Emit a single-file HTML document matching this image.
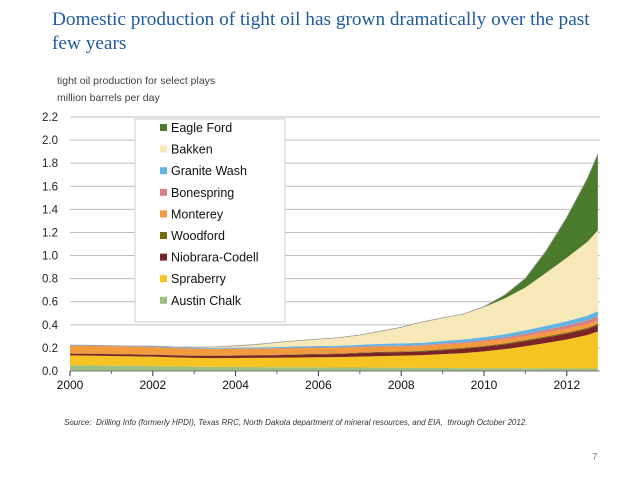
<!DOCTYPE html>
<html><head><meta charset="utf-8"><style>
body{margin:0;background:#fff;width:638px;height:479px;overflow:hidden;position:relative;font-family:"Liberation Sans",sans-serif}
.t{position:absolute;left:52px;top:8px;width:560px;font-family:"Liberation Serif",serif;font-size:19.3px;line-height:24px;color:#1f5a9e}
.s{position:absolute;left:57px;font-size:10.5px;color:#404040}
.src{position:absolute;left:64px;top:418px;font-size:8px;font-style:italic;color:#333}
.pg{position:absolute;left:592px;top:452px;font-size:10px;color:#888}
</style></head><body>
<div class="t">Domestic production of tight oil has grown dramatically over the past few years</div>
<div class="s" style="top:75px">tight oil production for select plays</div>
<div class="s" style="top:92px">million barrels per day</div>
<svg id="c" width="638" height="479" style="position:absolute;left:0;top:0"></svg>
<div class="src">Source:&nbsp; Drilling Info (formerly HPDI), Texas RRC, North Dakota department of mineral resources, and EIA,&nbsp; through October 2012.</div>
<div class="pg">7</div>
<script>
const years=[2000,2000.5,2001,2001.5,2002,2002.5,2003,2003.5,2004,2004.5,2005,2005.5,2006,2006.5,2007,2007.5,2008,2008.5,2009,2009.5,2010,2010.5,2011,2011.5,2012,2012.5,2012.75];
const austin=[0.05,0.048,0.046,0.044,0.042,0.04,0.038,0.036,0.035,0.034,0.033,0.032,0.031,0.03,0.03,0.029,0.028,0.027,0.026,0.025,0.025,0.024,0.024,0.023,0.023,0.022,0.022];
const spraberry=[0.085,0.085,0.084,0.083,0.082,0.078,0.076,0.076,0.078,0.08,0.082,0.085,0.088,0.09,0.095,0.1,0.105,0.11,0.12,0.13,0.145,0.165,0.19,0.22,0.25,0.29,0.32];
const niobrara=[0.015,0.015,0.016,0.016,0.017,0.017,0.018,0.018,0.02,0.02,0.022,0.024,0.025,0.027,0.03,0.032,0.03,0.032,0.035,0.038,0.04,0.042,0.045,0.047,0.05,0.052,0.055];
const woodford=[0.003,0.003,0.003,0.003,0.003,0.003,0.003,0.003,0.004,0.004,0.004,0.004,0.005,0.005,0.005,0.006,0.006,0.006,0.007,0.007,0.008,0.008,0.009,0.01,0.01,0.011,0.012];
const monterey=[0.065,0.065,0.064,0.063,0.062,0.06,0.058,0.056,0.055,0.054,0.053,0.052,0.05,0.048,0.046,0.044,0.042,0.04,0.04,0.038,0.036,0.035,0.034,0.033,0.032,0.031,0.03];
const bonespring=[0.002,0.002,0.002,0.002,0.002,0.002,0.003,0.003,0.003,0.004,0.004,0.005,0.005,0.006,0.006,0.007,0.008,0.009,0.01,0.011,0.013,0.016,0.02,0.024,0.028,0.032,0.035];
const granite=[0.005,0.005,0.005,0.005,0.005,0.006,0.006,0.007,0.008,0.009,0.01,0.011,0.012,0.013,0.015,0.017,0.02,0.02,0.022,0.024,0.026,0.028,0.031,0.034,0.038,0.042,0.045];
const bakken=[0,0,0,0,0.002,0.003,0.005,0.01,0.015,0.025,0.04,0.05,0.06,0.07,0.085,0.11,0.14,0.18,0.2,0.22,0.26,0.31,0.37,0.46,0.55,0.64,0.7];
const eagle=[0,0,0,0,0,0,0,0,0,0,0,0,0,0,0,0,0,0,0,0,0.005,0.03,0.08,0.19,0.35,0.55,0.66];
const seriesNames=["Austin Chalk","Spraberry","Niobrara-Codell","Woodford","Monterey","Bonespring","Granite Wash","Bakken","Eagle Ford"];
const seriesVals=[austin,spraberry,niobrara,woodford,monterey,bonespring,granite,bakken,eagle];
const colors=["#9cbf83","#f5c322","#7b2426","#7a6a12","#f39a3e","#d98080","#62b5e3","#f7e8b8","#4a7a2b"];
const yTicks=[0,0.2,0.4,0.6,0.8,1.0,1.2,1.4,1.6,1.8,2.0,2.2];
const xTicks=[2000,2002,2004,2006,2008,2010,2012];
const svg=document.getElementById('c');const NS='http://www.w3.org/2000/svg';
const X=v=>70+(v-2000)*41.4, Y=v=>371-v*(254/2.2);
function mk(t,a,p){const e=document.createElementNS(NS,t);for(const k in a)e.setAttribute(k,a[k]);(p||svg).appendChild(e);return e;}
yTicks.forEach(v=>{
 const l=mk('line',{x1:70,x2:600,y1:Y(v),y2:Y(v),stroke:v===0?'#888':'#bdbdbd','stroke-width':1});
 
 
 const t=mk('text',{x:58,y:Y(v)+4,'text-anchor':'end','font-size':11.5,fill:'#222'});t.textContent=v.toFixed(1);
 
 
});
let base=years.map(()=>0);
seriesVals.forEach((s,i)=>{
 const top=base.map((b,j)=>b+s[j]);
 let d='M'+years.map((y,j)=>X(y)+','+Y(top[j])).join('L');
 for(let j=years.length-1;j>=0;j--)d+='L'+X(years[j])+','+Y(base[j]);
 const p=mk('path',{d:d+'Z',fill:colors[i]});
 
 
 base=top;
});
const tl=mk('path',{d:'M'+years.map((y,j)=>X(y)+','+Y(base[j])).join('L'),fill:'none',stroke:'#999','stroke-width':0.8});


mk('line',{x1:70,x2:598,y1:371,y2:371,stroke:'#777'});
xTicks.forEach(v=>{
 mk('line',{x1:X(v),x2:X(v),y1:371,y2:376,stroke:'#333'});
 const t=mk('text',{x:X(v),y:389,'text-anchor':'middle','font-size':12,fill:'#111'});t.textContent=v;
 
 
});
for(let v=2001;v<=2011;v+=2)mk('line',{x1:X(v),x2:X(v),y1:371,y2:374,stroke:'#666'});
const lg=mk('g',{});


mk('rect',{x:135,y:119,width:150,height:203,fill:'#fff',stroke:'#ccc'},lg);
for(let k=8;k>=0;k--){
 const yy=131+(8-k)*21.6;
 mk('rect',{x:160,y:yy-7,width:7,height:7,fill:colors[k]},lg);
 const t=mk('text',{x:171,y:yy+1,'font-size':12.5,fill:'#111'},lg);t.textContent=seriesNames[k];
 
 
}
</script>
</body></html>
